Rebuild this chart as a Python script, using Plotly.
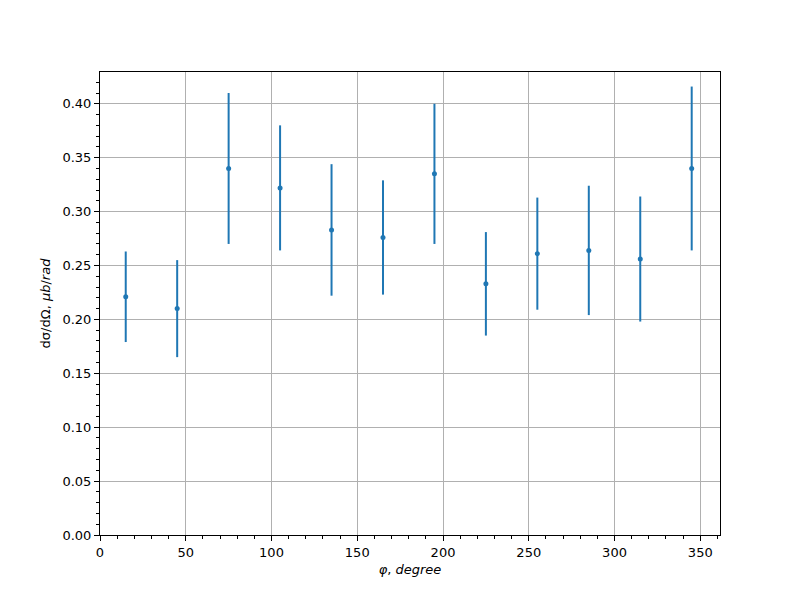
import plotly.graph_objects as go

phi = [15, 45, 75, 105, 135, 165, 195, 225, 255, 285, 315, 345]
xsec = [0.221, 0.210, 0.340, 0.322, 0.283, 0.276, 0.335, 0.233, 0.261, 0.264, 0.256, 0.340]
err = [0.042, 0.045, 0.070, 0.058, 0.061, 0.053, 0.065, 0.048, 0.052, 0.060, 0.058, 0.076]

color = "#1f77b4"
fig = go.Figure()
fig.add_trace(go.Scatter(
    x=phi, y=xsec, mode="markers",
    marker=dict(color=color, size=5),
    error_y=dict(type="data", array=err, visible=True, color=color, thickness=2, width=0),
    showlegend=False,
))

axis_common = dict(
    showline=True, linecolor="black", linewidth=1, mirror=True,
    ticks="outside", ticklen=5, tickcolor="black", tickwidth=1,
    showgrid=True, gridcolor="#b0b0b0", gridwidth=1,
    zeroline=False,
    tickfont=dict(family="DejaVu Sans", size=13, color="black"),
)

fig.update_layout(
    width=800, height=600,
    paper_bgcolor="white", plot_bgcolor="white",
    margin=dict(l=92, r=88, t=64, b=73),
    font=dict(family="DejaVu Sans", size=13, color="black"),
    xaxis=dict(
        range=[0, 361.5], tick0=0, dtick=50,
        minor=dict(dtick=10, ticks="outside", ticklen=3, tickcolor="black", showgrid=False),
        title=dict(text="<i>φ</i>, <i>degree</i>", standoff=6, font=dict(size=13)),
        **axis_common,
    ),
    yaxis=dict(
        range=[0, 0.4295], tick0=0, dtick=0.05, tickformat=".2f",
        minor=dict(dtick=0.01, ticks="outside", ticklen=3, tickcolor="black", showgrid=False),
        title=dict(text="dσ/dΩ, <i>μb</i>/<i>rad</i>", standoff=8, font=dict(size=13)),
        **axis_common,
    ),
)

fig.write_html("out.html")
